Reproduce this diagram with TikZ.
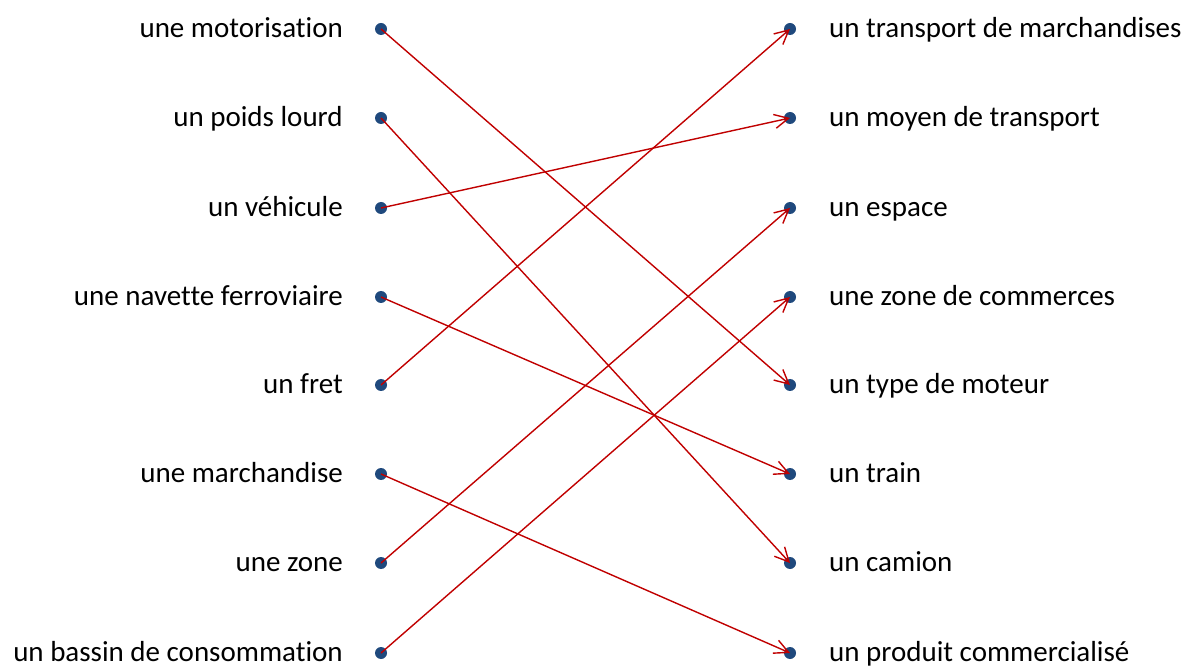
\documentclass[tikz,border=0pt]{standalone}
\usepackage{fontspec}
\setmainfont{Carlito}[Ligatures=NoCommon]
\usepackage{xcolor}
\usetikzlibrary{arrows.meta, positioning}
\definecolor{dotblue}{RGB}{31,73,125}
\definecolor{linkred}{RGB}{192,0,0}
\tikzset{
  termdot/.style={
    circle, fill=dotblue, inner sep=0pt, minimum size=12pt
  },
  termleft/.style={
    anchor=east, inner sep=0pt, text height=22pt, text depth=5pt,
    font=\fontsize{29}{34}\selectfont
  },
  termright/.style={
    anchor=west, inner sep=0pt, text height=22pt, text depth=5pt,
    font=\fontsize{29}{34}\selectfont
  },
  linkarrow/.style={
    -{Straight Barb[length=14pt, width=14pt, line width=1.4pt]},
    line width=1.4pt, color=linkred
  },
}
\begin{document}
\begin{tikzpicture}[x=1pt, y=1pt]
  \useasboundingbox (0,0) rectangle (1187,665);

  % Left column
  \node[termdot] (l1) at (381,636) {};
  \node[termdot] (l2) at (381,547) {};
  \node[termdot] (l3) at (381,457) {};
  \node[termdot] (l4) at (381,368) {};
  \node[termdot] (l5) at (381,280) {};
  \node[termdot] (l6) at (381,191) {};
  \node[termdot] (l7) at (381,102) {};
  \node[termdot] (l8) at (381,12) {};
  \node[termleft] (t1) at (343,636) {une motorisation};
  \node[termleft] (t2) at (343,547) {un poids lourd};
  \node[termleft] (t3) at (343,457) {un véhicule};
  \node[termleft] (t4) at (343,368) {une navette ferroviaire};
  \node[termleft] (t5) at (343,280) {un fret};
  \node[termleft] (t6) at (343,191) {une marchandise};
  \node[termleft] (t7) at (343,102) {une zone};
  \node[termleft] (t8) at (343,12) {un bassin de consommation};

  % Right column
  \node[termdot] (r1) at (790,636) {};
  \node[termdot] (r2) at (790,547) {};
  \node[termdot] (r3) at (790,457) {};
  \node[termdot] (r4) at (790,368) {};
  \node[termdot] (r5) at (790,280) {};
  \node[termdot] (r6) at (790,191) {};
  \node[termdot] (r7) at (790,102) {};
  \node[termdot] (r8) at (790,12) {};
  \node[termright] (s1) at (829,636) {un transport de marchandises};
  \node[termright] (s2) at (829,547) {un moyen de transport};
  \node[termright] (s3) at (829,457) {un espace};
  \node[termright] (s4) at (829,368) {une zone de commerces};
  \node[termright] (s5) at (829,280) {un type de moteur};
  \node[termright] (s6) at (829,191) {un train};
  \node[termright] (s7) at (829,102) {un camion};
  \node[termright] (s8) at (829,12) {un produit commercialisé};

  % Links
  \draw[linkarrow] (l1.center) -- (r5.center);
  \draw[linkarrow] (l2.center) -- (r7.center);
  \draw[linkarrow] (l3.center) -- (r2.center);
  \draw[linkarrow] (l4.center) -- (r6.center);
  \draw[linkarrow] (l5.center) -- (r1.center);
  \draw[linkarrow] (l6.center) -- (r8.center);
  \draw[linkarrow] (l7.center) -- (r3.center);
  \draw[linkarrow] (l8.center) -- (r4.center);
\end{tikzpicture}
\end{document}
